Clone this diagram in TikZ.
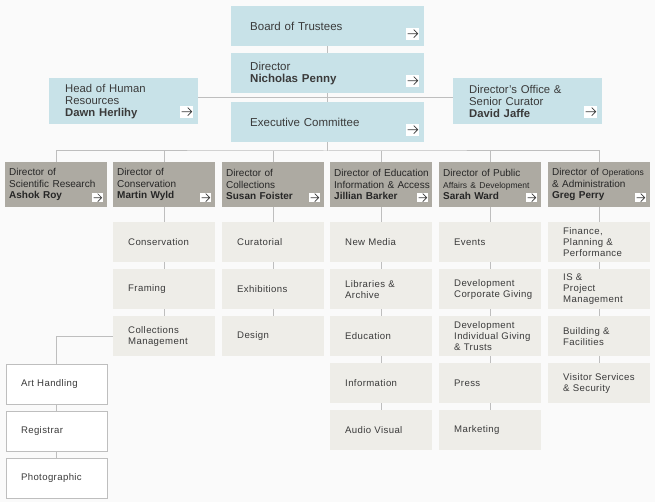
\documentclass[tikz,border=0pt]{standalone}
\usepackage{fontspec}
\setmainfont{Liberation Sans}
\newfontfamily\widesans[LetterSpace=4]{Liberation Sans}
\usetikzlibrary{positioning}
\hyphenpenalty=10000
\exhyphenpenalty=10000
\definecolor{pagebg}{HTML}{FAFAFA}
\definecolor{boardblue}{HTML}{C8E2E8}
\definecolor{headgray}{HTML}{ADAAA2}
\definecolor{deptgray}{HTML}{EEEDE8}
\definecolor{rulegray}{HTML}{BEBEBE}
\definecolor{ink}{HTML}{3A3A3A}
\tikzset{
  box/.style={anchor=north west, inner ysep=0pt, align=left, text=ink},
  board/.style={box, fill=boardblue, inner xsep=19pt, text width=155pt, minimum height=40pt,
    font={\fontsize{11.5pt}{12pt}\selectfont}},
  side/.style={box, fill=boardblue, inner xsep=16pt, text width=117pt, minimum height=46pt,
    font={\fontsize{11.3pt}{12pt}\selectfont}},
  head/.style={box, fill=headgray, inner xsep=4pt, text width=94pt, minimum height=45pt,
    text=black!85, font={\fontsize{10pt}{11.3pt}\selectfont}},
  dept/.style={box, fill=deptgray, inner xsep=15pt, text width=72pt, minimum height=40pt,
    font={\widesans\fontsize{9.6pt}{10.8pt}\selectfont}},
  unit/.style={dept, fill=white, draw=rulegray, line width=1pt, text width=71pt},
  go/.style={fill=white, inner sep=0pt, minimum width=13pt, minimum height=12pt, anchor=south east,
    path picture={
      \draw[ink, line width=0.7pt]
        ([xshift=1.5pt]path picture bounding box.west) -- ([xshift=-1.5pt]path picture bounding box.east)
        ([xshift=-5.5pt,yshift=4pt]path picture bounding box.east) -- ([xshift=-1.5pt]path picture bounding box.east)
        -- ([xshift=-5.5pt,yshift=-4pt]path picture bounding box.east);}},
  go small/.style={go, minimum width=11pt, minimum height=9pt},
  link/.style={draw=rulegray, line width=1pt}
}
\newcommand{\smallpart}[1]{{\fontsize{8.5pt}{11.3pt}\selectfont #1}}

\begin{document}
\begin{tikzpicture}[x=1pt,y=-1pt]
\path[use as bounding box, fill=pagebg] (0,0) rectangle (655,502);

% board and director
\node[board] (trustees)  at (231,6)   {Board of Trustees};
\node[board] (penny)     at (231,53)  {Director\\\textbf{Nicholas Penny}};
\node[board] (executive) at (231,102) {Executive Committee};
\node[side]  (hr)        at (49,78)   {Head of Human\\Resources\\\textbf{Dawn Herlihy}};
\node[side]  (office)    at (453,78)  {Director’s Office \&\\Senior Curator\\\textbf{David Jaffe}};

% directors
\node[head] (research)     at (5,162)   {Director of\\Scientific~Research\\\textbf{Ashok Roy}};
\node[head] (conservation) at (113,162) {Director of\\Conservation\\\textbf{Martin Wyld}};
\node[head] (collections)  at (222,162) {Director of\\Collections\\\textbf{Susan Foister}};
\node[head] (education)    at (330,162) {Director~of~Education\\Information~\&~Access\\\textbf{Jillian Barker}};
\node[head] (public)       at (439,162) {Director of Public\\\smallpart{Affairs~\&~Development}\\\textbf{Sarah Ward}};
\node[head] (operations)   at (548,162) {Director~of~\smallpart{Operations}\\\&~Administration\\\textbf{Greg Perry}};

% departments
\node[dept] (conserv)     at (113,222) {Conservation};
\node[dept] (framing)     at (113,269) {Framing};
\node[dept] (colmgmt)     at (113,316) {Collections\\Management};
\node[dept] (curatorial)  at (222,222) {Curatorial};
\node[dept] (exhibitions) at (222,269) {Exhibitions};
\node[dept] (design)      at (222,316) {Design};
\node[dept] (newmedia)    at (330,222) {New Media};
\node[dept] (libraries)   at (330,269) {Libraries \&\\Archive};
\node[dept] (educ)        at (330,316) {Education};
\node[dept] (information) at (330,363) {Information};
\node[dept] (audiovisual) at (330,410) {Audio Visual};
\node[dept] (events)      at (439,222) {Events};
\node[dept] (corporate)   at (439,269) {Development\\Corporate~Giving};
\node[dept] (individual)  at (439,316) {Development\\Individual~Giving\\\& Trusts};
\node[dept] (press)       at (439,363) {Press};
\node[dept] (marketing)   at (439,410) {Marketing};
\node[dept] (finance)     at (548,222) {Finance,\\Planning \&\\Performance};
\node[dept] (isproj)      at (548,269) {IS \&\\Project\\Management};
\node[dept] (building)    at (548,316) {Building \&\\Facilities};
\node[dept] (visitor)     at (548,363) {Visitor~Services\\\& Security};
\node[unit] (arthandling)  at (5.5,363.5) {Art Handling};
\node[unit] (registrar)    at (5.5,410.5) {Registrar};
\node[unit] (photographic) at (5.5,457.5) {Photographic};

% link icons
\foreach \n in {trustees,penny,executive,hr,office}
  \node[go] (\n-go) at ([shift={(-5pt,6.5pt)}]\n.south east) {};
\foreach \n in {research,conservation,collections,education,public,operations}
  \node[go small] (\n-go) at ([shift={(-4pt,5pt)}]\n.south east) {};

% connectors
\draw[link] (trustees.south) -- (penny.north);
\draw[link] (penny.south) -- (executive.north);
\draw[link] ([yshift=4pt]hr.east) -- ([yshift=4pt]office.west);
\coordinate (bar) at (326,151);
\draw[link] (executive.south) -- (executive.south |- bar);
\draw[link] (research.north) |- (bar) -| (operations.north);
\foreach \n in {conservation,collections,education,public}
  \draw[link] (\n.north) -- (\n.north |- bar);
\foreach \a/\b in {conservation/conserv, conserv/framing, framing/colmgmt,
    collections/curatorial, curatorial/exhibitions, exhibitions/design,
    education/newmedia, newmedia/libraries, libraries/educ, educ/information, information/audiovisual,
    public/events, events/corporate, corporate/individual, individual/press, press/marketing,
    operations/finance, finance/isproj, isproj/building, building/visitor,
    arthandling/registrar, registrar/photographic}
  \draw[link] (\a.south) -- (\b.north);
\draw[link] (colmgmt.west) -| (arthandling.north);
\end{tikzpicture}
\end{document}
